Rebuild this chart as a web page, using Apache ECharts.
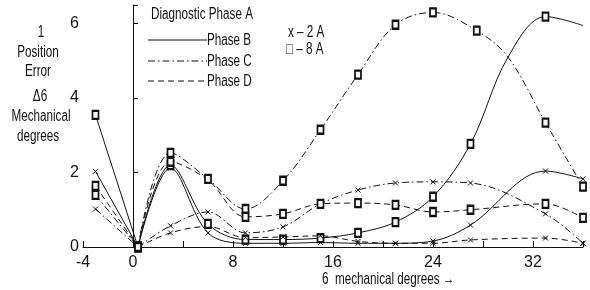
<!DOCTYPE html>
<html>
<head>
<meta charset="utf-8"/>
<title>Position error vs mechanical degrees</title>
<script src="https://cdn.jsdelivr.net/npm/echarts@6/dist/echarts.min.js"></script>
<style>
html,body{margin:0;padding:0;background:#fff;}
#main{width:590px;height:290px;}
</style>
</head>
<body>
<div id="main"></div>
<script>
// values: x = mechanical degrees, y = position error
var phaseB2A_x = [-3, 0.4, 3, 6, 9, 12, 15, 18, 21, 24, 27, 33, 36];
var phaseB2A_y = [2.03, 0, 2.12, 0.38, 0.1, 0.1, 0.12, 0.1, 0.1, 0.16, 0.59, 2.04, 1.83];

var phaseB8A_x = [-3, 0.4, 3, 6, 9, 12, 15, 18, 21, 24, 27, 30, 33, 36];
var phaseB8A_y = [3.55, 0, 2.2, 0.62, 0.2, 0.2, 0.24, 0.38, 0.67, 1.35, 2.77, 5.1, 6.19, 5.95];

var phaseC2A_x = [-3, 0.4, 3, 6, 9, 12, 15, 18, 21, 24, 27, 33, 36];
var phaseC2A_y = [1.02, 0, 0.57, 0.94, 0.38, 0.54, 1.16, 1.53, 1.72, 1.75, 1.72, 0.89, 0.1];

var phaseC8A_x = [-3, 0.4, 3, 6, 9, 12, 15, 18, 21, 24, 27.5, 30, 33, 36];
var phaseC8A_y = [1.4, 0, 2.53, 1.83, 1.02, 1.78, 3.15, 4.63, 5.97, 6.3, 5.81, 5.1, 3.34, 1.62];

var phaseD2A_x = [0.4, 3, 6, 9, 12, 15, 18, 21, 24, 27, 33, 36];
var phaseD2A_y = [0, 0.38, 0.55, 0.25, 0.27, 0.3, 0.15, 0.1, 0.1, 0.19, 0.24, 0.1];

var phaseD8A_x = [-3, 0.4, 3, 6, 9, 12, 15, 18, 21, 24, 27, 33, 36];
var phaseD8A_y = [1.64, 0, 2.29, 1.8, 0.81, 0.89, 1.16, 1.18, 1.13, 0.94, 1.0, 1.16, 0.78];

var xTicks = [-4, 0, 8, 16, 24, 32];
var yTicks = [0, 2, 4, 6];

var INK = '#111';
var FONT = "'Liberation Sans', Arial, sans-serif";
var NARROW = 0.73;   // the figure uses a condensed face
var X_MARK = 'path://M0,0L10,10M10,0L0,10';
var DASH_DOT = [7, 3, 1.5, 3];
var DASHED = [6, 4];

function points(xs, ys, bare) {
    return xs.map(function (x, i) {
        if (bare.indexOf(x) >= 0) return { value: [x, ys[i]], symbol: 'none' };
        return [x, ys[i]];
    });
}

// each curve: straight run into the zero point, smooth curve after it
function curve(xs, ys, dash, mark, bare) {
    var pts = points(xs, ys, bare || []);
    var k = xs.indexOf(0.4);
    var base = {
        type: 'line',
        symbol: mark === 'x' ? X_MARK : 'emptyRect',
        symbolSize: mark === 'x' ? 5 : [6, 8],
        lineStyle: { color: INK, width: 1, type: dash },
        itemStyle: { color: INK, borderColor: INK, borderWidth: 1 },
        animation: false,
        silent: true
    };
    var out = [];
    if (k > 0) {
        out.push(Object.assign({}, base, { smooth: false, data: pts.slice(0, k + 1) }));
    }
    out.push(Object.assign({}, base, { smooth: 0.35, data: pts.slice(k) }));
    return out;
}

var series = [].concat(
    curve(phaseB2A_x, phaseB2A_y, 'solid', 'x'),
    curve(phaseB8A_x, phaseB8A_y, 'solid', 'sq', [30, 36]),
    curve(phaseC2A_x, phaseC2A_y, DASH_DOT, 'x'),
    curve(phaseC8A_x, phaseC8A_y, DASH_DOT, 'sq', [30]),
    curve(phaseD2A_x, phaseD2A_y, DASHED, 'x', [6]),
    curve(phaseD8A_x, phaseD8A_y, DASHED, 'sq', [6])
);

function txt(s, x, y, align) {
    return {
        type: 'text', x: x, y: y, scaleX: NARROW, silent: true,
        style: { text: s, font: '16px ' + FONT, fill: INK, align: align || 'left', verticalAlign: 'middle' }
    };
}
function seg(y, dash) {
    return {
        type: 'line', silent: true,
        shape: { x1: 148, y1: y, x2: 207, y2: y },
        style: { stroke: INK, lineWidth: 1, lineDash: dash }
    };
}

var chart = echarts.init(document.getElementById('main'));
chart.setOption({
    backgroundColor: '#fff',
    animation: false,
    grid: { left: 83, right: 7, top: 5, bottom: 43 },
    xAxis: {
        type: 'value', min: -4, max: 36, interval: 4,
        axisLine: { lineStyle: { color: INK, width: 1 } },
        axisTick: { inside: true, length: 6, lineStyle: { color: INK } },
        axisLabel: {
            color: INK, fontSize: 16, fontFamily: FONT, margin: 8,
            formatter: function (v) { return xTicks.indexOf(v) >= 0 ? String(v) : ''; }
        },
        splitLine: { show: false }
    },
    yAxis: {
        type: 'value', min: 0, max: 6.5, interval: 2,
        axisLine: { show: true, lineStyle: { color: INK, width: 1 } },
        axisTick: { show: true, inside: true, length: 5, lineStyle: { color: INK } },
        axisLabel: {
            color: INK, fontSize: 16, fontFamily: FONT, margin: 4,
            formatter: function (v) { return yTicks.indexOf(v) >= 0 ? String(v) : ''; }
        },
        splitLine: { show: false }
    },
    graphic: [
        txt('1', 41, 33, 'center'),
        txt('Position', 38, 53, 'center'),
        txt('Error', 38, 72, 'center'),
        txt('Δ6', 40, 97, 'center'),
        txt('Mechanical', 41, 117, 'center'),
        txt('degrees', 38, 137, 'center'),
        txt('Diagnostic Phase A', 151, 15),
        seg(40, null), txt('Phase B', 207, 41),
        seg(61, DASH_DOT), txt('Phase C', 207, 62),
        seg(81, DASHED), txt('Phase D', 207, 82),
        txt('x – 2 A', 288, 33),
        txt('□ – 8 A', 286, 50),
        txt('6  mechanical degrees →', 322, 280)
    ],
    series: series
});
</script>
</body>
</html>
